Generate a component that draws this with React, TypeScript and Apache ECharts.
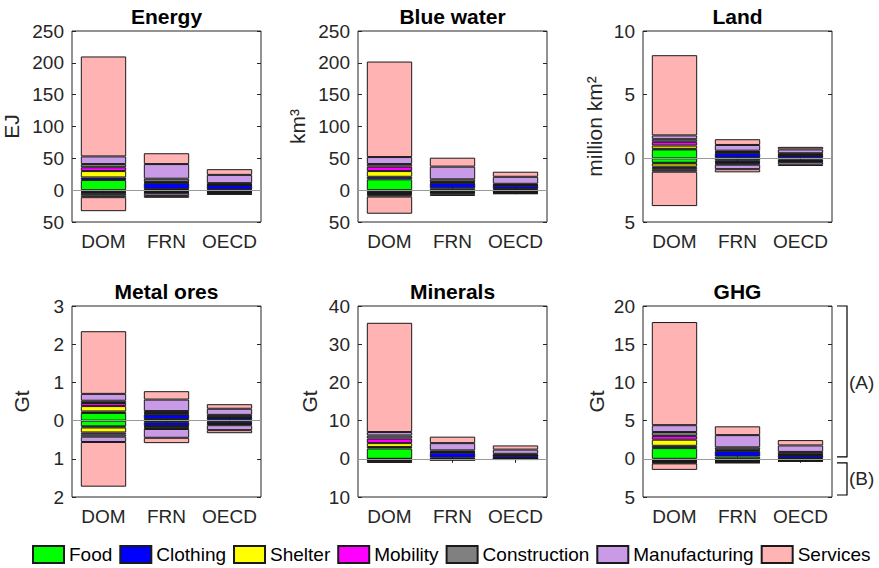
import React, { useEffect, useRef } from "react";
import * as echarts from "echarts";

const categories = ["DOM", "FRN", "OECD"];
const sectors = ["Food", "Clothing", "Shelter", "Mobility", "Construction", "Manufacturing", "Services"];
const sectorColors = ["#00ff00", "#0000ff", "#ffff00", "#ff00ff", "#808080", "#c99be6", "#ffb3b3"];

const titles = ["Energy", "Blue water", "Land", "Metal ores", "Minerals", "GHG"];
const units = ["EJ", "km³", "million km²", "Gt", "Gt", "Gt"];
const yMin = [-50, -50, -5, -2, -10, -5];
const yMax = [250, 250, 10, 3, 40, 20];
const yStep = [50, 50, 5, 1, 10, 5];

// rows: DOM, FRN, OECD ; columns: sectors order
const energyPos = [
  [16, 4, 10, 6, 5, 12, 157],
  [2, 9, 1, 1, 5, 23, 17],
  [1, 7, 0.5, 0.5, 2, 13, 9],
];
const energyNeg = [
  [2, 1, 1, 1, 3, 3, 22],
  [1, 2, 0.5, 0.5, 1, 4, 3],
  [1, 1, 0.5, 0.5, 1, 2, 1],
];
const waterPos = [
  [17, 4, 9, 7, 4, 11, 150],
  [3, 8, 1, 1, 4, 20, 14],
  [2, 5, 0.5, 0.5, 2, 11, 8],
];
const waterNeg = [
  [3, 1, 1, 1, 2, 2, 27],
  [2, 1, 0.5, 0.5, 1, 2, 2],
  [1, 1, 0.5, 0.5, 1, 1, 1],
];
const landPos = [
  [0.7, 0.05, 0.25, 0.3, 0.2, 0.3, 6.3],
  [0.05, 0.35, 0.05, 0.05, 0.1, 0.45, 0.45],
  [0.05, 0.2, 0.03, 0.02, 0.1, 0.3, 0.2],
];
const landNeg = [
  [0.35, 0.05, 0.25, 0.1, 0.15, 0.15, 2.7],
  [0.15, 0.15, 0.05, 0.05, 0.1, 0.35, 0.25],
  [0.1, 0.1, 0.02, 0.03, 0.05, 0.2, 0.1],
];
const metalPos = [
  [0.2, 0.04, 0.14, 0.08, 0.06, 0.18, 1.64],
  [0.04, 0.12, 0.02, 0.02, 0.05, 0.3, 0.22],
  [0.02, 0.06, 0.01, 0.01, 0.05, 0.16, 0.12],
];
const metalNeg = [
  [0.15, 0.03, 0.13, 0.05, 0.06, 0.14, 1.17],
  [0.04, 0.1, 0.02, 0.02, 0.04, 0.23, 0.14],
  [0.02, 0.05, 0.01, 0.01, 0.03, 0.13, 0.08],
];
const mineralPos = [
  [2.7, 0.4, 1.0, 1.2, 0.8, 0.9, 28.6],
  [0.3, 1.3, 0.1, 0.1, 0.4, 1.9, 1.7],
  [0.1, 0.7, 0.05, 0.05, 0.4, 1.1, 1.1],
];
const mineralNeg = [
  [0.1, 0.05, 0.1, 0.05, 0.2, 0.1, 0.5],
  [0.1, 0.05, 0.02, 0.02, 0.05, 0.03, 0.03],
  [0.05, 0.05, 0.02, 0.02, 0.03, 0.02, 0.01],
];
const ghgPos = [
  [1.4, 0.3, 0.8, 0.5, 0.5, 0.9, 13.5],
  [0.3, 0.7, 0.1, 0.1, 0.3, 1.6, 1.15],
  [0.1, 0.4, 0.05, 0.05, 0.3, 0.85, 0.7],
];
const ghgNeg = [
  [0.2, 0.05, 0.1, 0.05, 0.1, 0.1, 0.85],
  [0.1, 0.1, 0.05, 0.05, 0.1, 0.1, 0.05],
  [0.05, 0.05, 0.02, 0.03, 0.1, 0.05, 0.05],
];

const posData = [energyPos, waterPos, landPos, metalPos, mineralPos, ghgPos];
const negData = [energyNeg, waterNeg, landNeg, metalNeg, mineralNeg, ghgNeg];

const FONT = "Liberation Sans, Arial, Helvetica, sans-serif";
const TXT = "#262626";
const gridLefts = [72, 358, 643];
const gridTops = [31, 306];
const GW = 189;
const GH = 191;
const nameGaps = [50, 50, 38, 40, 38, 36];

export default function App() {
  const ref = useRef<HTMLDivElement>(null);
  useEffect(() => {
    document.body.style.margin = "0";
    if (!ref.current) return;
    const chart = echarts.init(ref.current, null, { renderer: "svg" });
    const grids: any[] = [];
    const xAxes: any[] = [];
    const yAxes: any[] = [];
    const series: any[] = [];
    for (let i = 0; i < 6; i++) {
      const row = Math.floor(i / 3);
      const col = i % 3;
      grids.push({
        left: gridLefts[col],
        top: gridTops[row],
        width: GW,
        height: GH,
        show: true,
        borderColor: TXT,
        borderWidth: 1,
        backgroundColor: "transparent",
      });
      xAxes.push({
        type: "category",
        gridIndex: i,
        data: categories,
        position: "bottom",
        axisLine: { show: false },
        axisTick: { show: true, inside: true, alignWithLabel: true, length: 4, lineStyle: { color: TXT } },
        axisLabel: { color: TXT, fontSize: 19, fontFamily: FONT, margin: 10, interval: 0 },
      });
      xAxes.push({
        type: "category",
        gridIndex: i,
        data: categories,
        position: "top",
        axisLine: { show: false },
        axisTick: { show: true, inside: true, alignWithLabel: true, length: 4, lineStyle: { color: TXT } },
        axisLabel: { show: false },
        name: titles[i],
        nameLocation: "middle",
        nameGap: 4,
        nameTextStyle: { color: "#000", fontSize: 21, fontWeight: "bold", fontFamily: FONT },
      });
      yAxes.push({
        type: "value",
        gridIndex: i,
        min: yMin[i],
        max: yMax[i],
        interval: yStep[i],
        position: "left",
        axisLine: { show: false },
        splitLine: { show: false },
        axisTick: { show: true, inside: true, length: 4, lineStyle: { color: TXT } },
        axisLabel: {
          color: TXT,
          fontSize: 19,
          fontFamily: FONT,
          margin: 8,
          formatter: (v: number) => String(Math.abs(v)),
        },
        name: units[i],
        nameLocation: "middle",
        nameGap: nameGaps[i],
        nameTextStyle: { color: TXT, fontSize: 21, fontFamily: FONT },
      });
      yAxes.push({
        type: "value",
        gridIndex: i,
        min: yMin[i],
        max: yMax[i],
        interval: yStep[i],
        position: "right",
        axisLine: { show: false },
        splitLine: { show: false },
        axisTick: { show: true, inside: true, length: 4, lineStyle: { color: TXT } },
        axisLabel: { show: false },
      });
      const stack = "s" + i;
      for (let sign = 0; sign < 2; sign++) {
        const src = sign === 0 ? posData[i] : negData[i];
        for (let k = 0; k < sectors.length; k++) {
          const s: any = {
            type: "bar",
            name: sectors[k],
            xAxisIndex: i * 2,
            yAxisIndex: i * 2,
            stack,
            barWidth: "72%",
            data: categories.map((_, c) => (sign === 0 ? src[c][k] : -src[c][k])),
            itemStyle: { color: sectorColors[k], borderColor: "#1a1a1a", borderWidth: 1 },
            emphasis: { disabled: true },
          };
          if (sign === 0 && k === 0) {
            s.markLine = {
              silent: true,
              symbol: ["none", "none"],
              label: { show: false },
              lineStyle: { color: "#9a9a9a", width: 1, type: "solid" },
              data: [{ yAxis: 0 }],
            };
          }
          series.push(s);
        }
      }
    }
    chart.setOption({
      animation: false,
      grid: grids,
      xAxis: xAxes,
      yAxis: yAxes,
      series,
      legend: {
        data: sectors,
        left: 32,
        top: 545,
        itemWidth: 31,
        itemHeight: 17,
        itemGap: 7,
        padding: 0,
        icon: "rect",
        selectedMode: false,
        textStyle: { color: "#000", fontSize: 19, fontFamily: FONT },
      },
    });
    // brackets (A) and (B) next to the GHG panel
    const yTop = chart.convertToPixel({ yAxisIndex: 10 }, 20) as number;
    const yZero = chart.convertToPixel({ yAxisIndex: 10 }, 0) as number;
    const yBot = chart.convertToPixel({ yAxisIndex: 10 }, -5) as number;
    const bx = gridLefts[2] + GW + 15;
    const bl = bx - 10;
    const ls = { stroke: "#000", lineWidth: 1.2, fill: "none" };
    chart.setOption({
      graphic: [
        { type: "polyline", shape: { points: [[bl, yTop], [bx, yTop], [bx, yZero - 2], [bl, yZero - 2]] }, style: ls },
        { type: "polyline", shape: { points: [[bl, yZero + 4], [bx, yZero + 4], [bx, yBot - 2], [bl, yBot - 2]] }, style: ls },
        { type: "text", x: bx + 2, y: (yTop + yZero) / 2, style: { text: "(A)", fill: TXT, font: `19px ${FONT}`, textVerticalAlign: "middle" } },
        { type: "text", x: bx + 2, y: (yZero + yBot) / 2 + 1, style: { text: "(B)", fill: TXT, font: `19px ${FONT}`, textVerticalAlign: "middle" } },
      ],
    });
    return () => chart.dispose();
  }, []);
  return <div ref={ref} style={{ width: 879, height: 568 }} />;
}
